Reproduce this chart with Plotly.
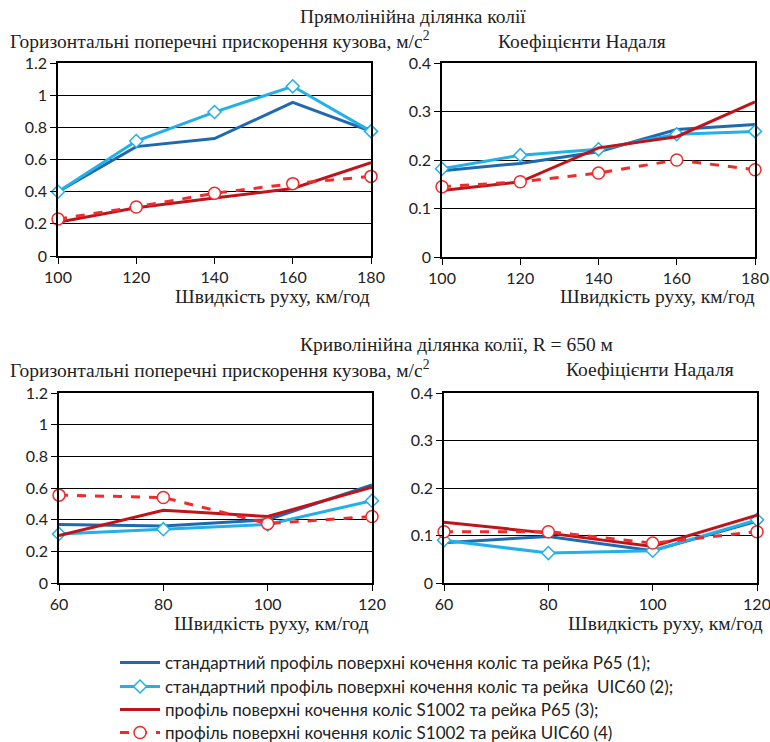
import plotly.graph_objects as go

# ---- data ----
x_straight = [100, 120, 140, 160, 180]
x_curve = [60, 80, 100, 120]

names = [
    "стандартний профіль поверхні кочення коліс та рейка Р65 (1);",
    "стандартний профіль поверхні кочення коліс та рейка  UIC60 (2);",
    "профіль поверхні кочення коліс S1002 та рейка Р65 (3);",
    "профіль поверхні кочення коліс S1002 та рейка UIC60 (4)",
]

acc_straight_1 = [0.40, 0.68, 0.73, 0.955, 0.775]
acc_straight_2 = [0.40, 0.715, 0.895, 1.055, 0.775]
acc_straight_3 = [0.21, 0.30, 0.36, 0.42, 0.58]
acc_straight_4 = [0.23, 0.305, 0.39, 0.45, 0.495]

nad_straight_1 = [0.178, 0.193, 0.217, 0.263, 0.273]
nad_straight_2 = [0.182, 0.21, 0.222, 0.253, 0.259]
nad_straight_3 = [0.137, 0.155, 0.225, 0.248, 0.32]
nad_straight_4 = [0.145, 0.155, 0.173, 0.20, 0.18]

acc_curve_1 = [0.37, 0.36, 0.40, 0.62]
acc_curve_2 = [0.31, 0.34, 0.37, 0.52]
acc_curve_3 = [0.30, 0.46, 0.42, 0.605]
acc_curve_4 = [0.555, 0.54, 0.375, 0.42]

nad_curve_1 = [0.085, 0.098, 0.068, 0.13]
nad_curve_2 = [0.09, 0.063, 0.068, 0.133]
nad_curve_3 = [0.128, 0.105, 0.077, 0.143]
nad_curve_4 = [0.108, 0.108, 0.084, 0.108]

# ---- styles ----
colors = ["#1f69b1", "#22b0ea", "#c0141a", "#ef2b2b"]
W, H = 770, 742
legend_ids = ["legend", "legend2", "legend3", "legend4"]
legend_rows_px = [663, 687, 710, 733]

fig = go.Figure()

def add_series(x, ys, xa, ya, show):
    for i, y in enumerate(ys):
        kw = dict(x=x, y=y, xaxis=xa, yaxis=ya, name=names[i], showlegend=show,
                  legend=legend_ids[i], legendgroup=str(i), cliponaxis=False)
        if i == 0:
            fig.add_trace(go.Scatter(mode="lines", line=dict(color=colors[0], width=3), **kw))
        elif i == 1:
            fig.add_trace(go.Scatter(mode="lines+markers", line=dict(color=colors[1], width=3),
                                     marker=dict(symbol="diamond", size=10, color="white",
                                                 line=dict(color=colors[1], width=1.5)), **kw))
        elif i == 2:
            fig.add_trace(go.Scatter(mode="lines", line=dict(color=colors[2], width=3), **kw))
        else:
            fig.add_trace(go.Scatter(mode="lines+markers", line=dict(color=colors[3], width=3, dash="dash"),
                                     marker=dict(symbol="circle", size=12, color="white",
                                                 line=dict(color=colors[3], width=1.5)), **kw))

add_series(x_straight, [acc_straight_1, acc_straight_2, acc_straight_3, acc_straight_4], "x", "y", True)
add_series(x_straight, [nad_straight_1, nad_straight_2, nad_straight_3, nad_straight_4], "x2", "y2", False)
add_series(x_curve, [acc_curve_1, acc_curve_2, acc_curve_3, acc_curve_4], "x3", "y3", False)
add_series(x_curve, [nad_curve_1, nad_curve_2, nad_curve_3, nad_curve_4], "x4", "y4", False)

def px_x(p):
    return p / W

def px_y(p):
    return 1 - p / H

tickfont = dict(family="Lato, Liberation Sans, sans-serif", size=16, color="#222")
axcommon = dict(showline=True, mirror=True, linecolor="black", linewidth=1.5,
                ticks="outside", ticklen=6, tickcolor="black", tickfont=tickfont,
                zeroline=False, fixedrange=True, automargin=False)

domains = {
    "1": ([58, 371], [63, 256]),
    "2": ([442, 755], [63, 257]),
    "3": ([59, 372], [393, 583]),
    "4": ([444, 757], [393, 583]),
}
xranges = {"1": [100, 180], "2": [100, 180], "3": [60, 120], "4": [60, 120]}
yranges = {"1": [0, 1.2], "2": [0, 0.4], "3": [0, 1.2], "4": [0, 0.4]}
ydt = {"1": 0.2, "2": 0.1, "3": 0.2, "4": 0.1}

layout = {}
for k, (dx, dy) in domains.items():
    sx = "" if k == "1" else k
    layout["xaxis" + sx] = dict(domain=[px_x(dx[0]), px_x(dx[1])], range=xranges[k], dtick=20,
                                tick0=xranges[k][0], showgrid=False, ticklabeloverflow="allow",
                                anchor="y" + sx, **axcommon)
    layout["yaxis" + sx] = dict(domain=[px_y(dy[1]), px_y(dy[0])], range=yranges[k], dtick=ydt[k],
                                showgrid=True, gridcolor="black", gridwidth=1.3,
                                anchor="x" + sx, **axcommon)

serif = dict(family="Liberation Serif, Times New Roman, serif", size=19.5, color="#222")

def ann(text, x, y, xanchor="center"):
    return dict(text=text, x=px_x(x), y=px_y(y), xref="paper", yref="paper",
                xanchor=xanchor, yanchor="middle", showarrow=False, font=serif)

annotations = [
    ann("Прямолінійна ділянка колії", 413, 16),
    ann("Горизонтальні поперечні прискорення кузова, м/с<sup>2</sup>", 8, 40, "left"),
    ann("Коефіцієнти Надаля", 582, 41),
    ann("Швидкість руху, км/год", 372, 297, "right"),
    ann("Швидкість руху, км/год", 757, 297, "right"),
    ann("Криволінійна ділянка колії, R = 650 м", 456, 345),
    ann("Горизонтальні поперечні прискорення кузова, м/с<sup>2</sup>", 8, 369, "left"),
    ann("Коефіцієнти Надаля", 650, 369),
    ann("Швидкість руху, км/год", 371, 623, "right"),
    ann("Швидкість руху, км/год", 765, 623, "right"),
]

legfont = dict(family="Lato, Liberation Sans, sans-serif", size=17, color="#222")
for lid, ypx in zip(legend_ids, legend_rows_px):
    layout[lid] = dict(x=px_x(115), y=px_y(ypx), xanchor="left", yanchor="middle",
                       font=legfont, bgcolor="rgba(0,0,0,0)", itemwidth=40)

fig.update_layout(
    width=W, height=H,
    margin=dict(l=0, r=0, t=0, b=0, pad=0, autoexpand=False),
    paper_bgcolor="white", plot_bgcolor="white",
    annotations=annotations,
    showlegend=True,
    **layout,
)

fig.write_html(
    "out.html",
    config={"displayModeBar": False},
    post_script="document.body.style.margin='0';document.body.style.overflow='hidden';document.documentElement.style.overflow='hidden';",
)
